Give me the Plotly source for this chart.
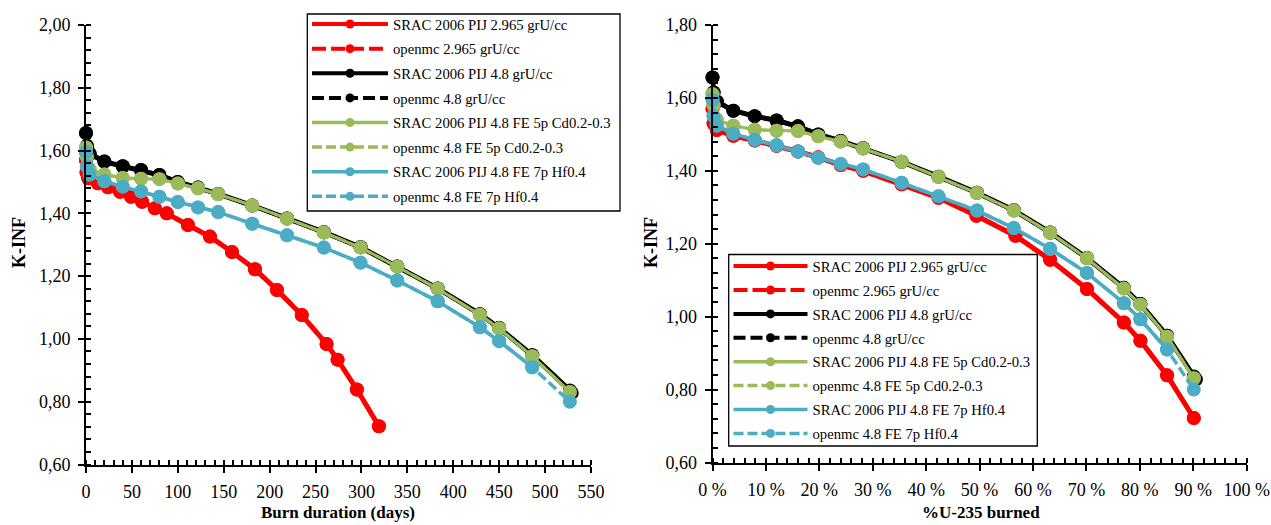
import plotly.graph_objects as go

# ---------------- data ----------------
series_names = [
    "SRAC 2006 PIJ 2.965 grU/cc",
    "openmc 2.965 grU/cc",
    "SRAC 2006 PIJ 4.8 grU/cc",
    "openmc 4.8 grU/cc",
    "SRAC 2006 PIJ 4.8 FE 5p Cd0.2-0.3",
    "openmc 4.8 FE 5p Cd0.2-0.3",
    "SRAC 2006 PIJ 4.8 FE 7p Hf0.4",
    "openmc 4.8 FE 7p Hf0.4",
]

# burn duration (days)
days_2965 = [0, 0.6, 2.5, 13, 24, 37, 49, 61, 75, 88, 111, 135, 159, 184, 208, 235, 262, 274, 295, 319]
days_48 = [0, 1, 4, 20, 40, 60, 80, 100, 122, 144, 181, 219, 259, 299, 339, 383, 429, 450, 486, 527]
days_48_omc = [0, 1, 4, 20, 40, 60, 80, 100, 122, 144, 181, 219, 259, 299, 339, 383, 429, 450, 486, 529]

# % U-235 burned
pct_2965 = [0, 0.2, 0.8, 3.9, 7.9, 12.0, 16.0, 19.8, 24.0, 28.2, 35.4, 42.3, 49.4, 56.7, 63.2, 70.1, 77.0, 80.1, 85.1, 90.1]
pct_48 = [0, 0.2, 0.8, 3.9, 7.9, 12.0, 16.0, 19.8, 24.0, 28.2, 35.4, 42.3, 49.5, 56.4, 63.2, 70.1, 77.0, 80.1, 85.1, 90.1]
pct_48_omc = [0, 0.2, 0.8, 3.9, 7.9, 12.0, 16.0, 19.8, 24.0, 28.2, 35.4, 42.3, 49.5, 56.4, 63.2, 70.1, 77.0, 80.1, 85.1, 90.5]

# K-INF values
k_srac_2965 = [1.570, 1.530, 1.512, 1.496, 1.483, 1.469, 1.453, 1.437, 1.416, 1.400, 1.363, 1.326, 1.277, 1.222, 1.156, 1.076, 0.984, 0.934, 0.839, 0.722]
k_omc_2965 = [1.570, 1.530, 1.512, 1.496, 1.483, 1.469, 1.453, 1.437, 1.416, 1.400, 1.363, 1.326, 1.277, 1.222, 1.156, 1.076, 0.984, 0.934, 0.839, 0.722]
k_srac_48 = [1.656, 1.615, 1.590, 1.565, 1.550, 1.538, 1.522, 1.500, 1.482, 1.462, 1.425, 1.384, 1.340, 1.292, 1.231, 1.161, 1.079, 1.035, 0.948, 0.836]
k_omc_48 = [1.656, 1.615, 1.590, 1.565, 1.550, 1.538, 1.522, 1.500, 1.482, 1.462, 1.425, 1.384, 1.340, 1.292, 1.231, 1.161, 1.079, 1.035, 0.948, 0.828]
k_srac_cd = [1.610, 1.580, 1.540, 1.524, 1.513, 1.510, 1.509, 1.495, 1.480, 1.461, 1.425, 1.383, 1.339, 1.291, 1.230, 1.160, 1.077, 1.033, 0.945, 0.831]
k_omc_cd = [1.610, 1.580, 1.540, 1.524, 1.513, 1.510, 1.509, 1.495, 1.480, 1.461, 1.425, 1.383, 1.339, 1.291, 1.230, 1.160, 1.077, 1.033, 0.945, 0.831]
k_srac_hf = [1.595, 1.550, 1.524, 1.502, 1.485, 1.470, 1.453, 1.436, 1.419, 1.404, 1.367, 1.330, 1.291, 1.243, 1.186, 1.120, 1.037, 0.993, 0.910]
k_omc_hf = [1.595, 1.550, 1.524, 1.502, 1.485, 1.470, 1.453, 1.436, 1.419, 1.404, 1.367, 1.330, 1.291, 1.243, 1.186, 1.120, 1.037, 0.993, 0.910, 0.800]

x_days = [days_2965, days_2965, days_48, days_48_omc, days_48, days_48, days_48[:len(k_srac_hf)], days_48]
x_pct = [pct_2965, pct_2965, pct_48, pct_48_omc, pct_48, pct_48, pct_48[:len(k_srac_hf)], pct_48]
y_vals = [k_srac_2965, k_omc_2965, k_srac_48, k_omc_48, k_srac_cd, k_omc_cd, k_srac_hf, k_omc_hf]

# ---------------- styles ----------------
colors = ["#FF0000", "#FF0000", "#000000", "#000000", "#9BBB59", "#9BBB59", "#4BACC6", "#4BACC6"]
widths = [5, 4.5, 5, 4, 3, 3, 3.5, 3.5]
dashes = ["solid", "14px,5px", "solid", "12px,5px", "solid", "10px,4px", "solid", "10px,4px"]
legend_widths = [4, 4, 4, 4, 3.5, 3.5, 3.5, 3.5]

FONT = "Liberation Serif, Times New Roman, serif"
W, H = 1271, 525

fig = go.Figure()

for panel, (xs_all, xa, ya, leg) in enumerate([(x_days, "x", "y", "legend"), (x_pct, "x2", "y2", "legend2")]):
    for i in range(8):
        fig.add_trace(go.Scatter(
            x=xs_all[i], y=y_vals[i], mode="lines+markers",
            line=dict(color=colors[i], width=widths[i], dash=dashes[i]),
            marker=dict(color=colors[i], size=14, symbol="circle"),
            xaxis=xa, yaxis=ya, showlegend=False, cliponaxis=False,
            hoverinfo="skip",
        ))
    for i in range(8):
        fig.add_trace(go.Scatter(
            x=[None], y=[None], mode="lines+markers", name=series_names[i],
            line=dict(color=colors[i], width=legend_widths[i], dash=dashes[i]),
            marker=dict(color=colors[i], size=9),
            xaxis=xa, yaxis=ya, showlegend=True, legend=leg,
            legendgroup=f"{leg}_{i}",
        ))

axis_common = dict(
    showline=True, linecolor="black", linewidth=2, mirror=False,
    ticks="outside", ticklen=6, tickwidth=2, tickcolor="black",
    showgrid=False, zeroline=False, automargin=False,
    tickfont=dict(family=FONT, size=18, color="black"),
    ticklabelstandoff=4,
)

def px_x(p):
    return p / W

def px_y(p):
    return 1 - p / H

legend_common = dict(
    xanchor="left", yanchor="top",
    borderwidth=0, bgcolor="rgba(0,0,0,0)",
    font=dict(family=FONT, size=14.7, color="black"),
    traceorder="grouped",
)

fig.update_layout(
    width=W, height=H,
    margin=dict(l=0, r=0, t=0, b=0, pad=0, autoexpand=False),
    paper_bgcolor="white", plot_bgcolor="white",
    separators=", ",
    font=dict(family=FONT, color="black"),
    xaxis=dict(domain=[px_x(86), px_x(591)], range=[0, 550], dtick=50, tick0=0, anchor="y",
               minor=dict(dtick=10, ticks="inside", ticklen=5, tickwidth=1.5, tickcolor="black"),
               **axis_common),
    yaxis=dict(domain=[px_y(464.5), px_y(25)], range=[0.6, 2.0], dtick=0.2, tick0=0.6, tickformat=".2f",
               anchor="x",
               minor=dict(dtick=0.04, tick0=0.6, ticks="inside", ticklen=5, tickwidth=1.5, tickcolor="black"),
               **axis_common),
    xaxis2=dict(domain=[px_x(712.5), px_x(1246.7)], range=[0, 100], dtick=10, tick0=0, ticksuffix=" %",
                anchor="y2",
                minor=dict(dtick=2, ticks="inside", ticklen=5, tickwidth=1.5, tickcolor="black"),
                **axis_common),
    yaxis2=dict(domain=[px_y(462.5), px_y(25)], range=[0.6, 1.8], dtick=0.2, tick0=0.6, tickformat=".2f",
                anchor="x2",
                minor=dict(dtick=0.04, tick0=0.6, ticks="inside", ticklen=5, tickwidth=1.5, tickcolor="black"),
                **axis_common),
    legend=dict(x=px_x(307), y=px_y(8), itemwidth=76, tracegroupgap=2.5, **legend_common),
    legend2=dict(x=px_x(728.5), y=px_y(250), itemwidth=74, tracegroupgap=1.8, **legend_common),
    shapes=[
        dict(type="rect", xref="paper", yref="paper", layer="above",
             x0=px_x(307.3), x1=px_x(620), y0=px_y(211), y1=px_y(14),
             line=dict(color="black", width=1.3), fillcolor="white"),
        dict(type="rect", xref="paper", yref="paper", layer="above",
             x0=px_x(728.7), x1=px_x(1037.3), y0=px_y(446), y1=px_y(254.5),
             line=dict(color="black", width=1.3), fillcolor="white"),
    ],
    annotations=[
        dict(text="<b>K-INF</b>", x=px_x(19), y=px_y(243), xref="paper", yref="paper",
             textangle=-90, showarrow=False, font=dict(family=FONT, size=18, color="black"),
             xanchor="center", yanchor="middle"),
        dict(text="<b>K-INF</b>", x=px_x(651), y=px_y(243), xref="paper", yref="paper",
             textangle=-90, showarrow=False, font=dict(family=FONT, size=18, color="black"),
             xanchor="center", yanchor="middle"),
        dict(text="<b>Burn duration (days)</b>", x=px_x(338.5), y=px_y(512), xref="paper", yref="paper",
             showarrow=False, font=dict(family=FONT, size=17, color="black"),
             xanchor="center", yanchor="middle"),
        dict(text="<b>%U-235 burned</b>", x=px_x(980.5), y=px_y(512), xref="paper", yref="paper",
             showarrow=False, font=dict(family=FONT, size=17, color="black"),
             xanchor="center", yanchor="middle"),
    ],
)

fig.write_html("out.html")
